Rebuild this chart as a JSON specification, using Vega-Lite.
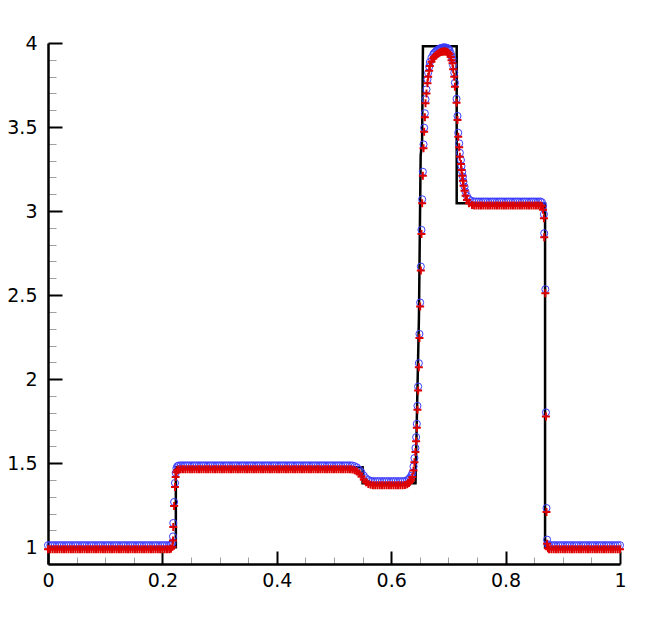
{
  "$schema": "https://vega.github.io/schema/vega-lite/v6.json",
  "autosize": "none",
  "width": 572,
  "height": 521,
  "padding": {"left": 48, "top": 43, "right": 28, "bottom": 76},
  "background": "white",
  "config": {
    "view": {"stroke": null},
    "axis": {
      "grid": false,
      "domainColor": "black",
      "domainWidth": 2.5,
      "labelFont": "DejaVu Sans",
      "labelFontSize": 19,
      "labelColor": "black",
      "labelOverlap": false,
      "labelFlush": false,
      "title": null
    }
  },
  "datasets": {
    "exact": [
      {"x": 0, "y": 1}, {"x": 0.2235, "y": 1}, {"x": 0.2235, "y": 1.475}, {"x": 0.55, "y": 1.475},
      {"x": 0.55, "y": 1.381}, {"x": 0.6425, "y": 1.381}, {"x": 0.6485, "y": 2.37}, {"x": 0.6515, "y": 3.33},
      {"x": 0.654, "y": 3.42}, {"x": 0.6555, "y": 3.98}, {"x": 0.7145, "y": 3.98}, {"x": 0.7145, "y": 3.047},
      {"x": 0.869, "y": 3.047}, {"x": 0.869, "y": 1}, {"x": 1, "y": 1}
    ],
    "num": [
      {"x":0,"y":1},{"x":0.004,"y":1},{"x":0.008,"y":1},{"x":0.012,"y":1},{"x":0.016,"y":1},{"x":0.02,"y":1},{"x":0.024,"y":1},{"x":0.028,"y":1},{"x":0.032,"y":1},{"x":0.036,"y":1},{"x":0.04,"y":1},{"x":0.044,"y":1},{"x":0.048,"y":1},{"x":0.052,"y":1},{"x":0.056,"y":1},{"x":0.06,"y":1},{"x":0.064,"y":1},{"x":0.068,"y":1},{"x":0.072,"y":1},{"x":0.076,"y":1},{"x":0.08,"y":1},{"x":0.084,"y":1},{"x":0.088,"y":1},{"x":0.092,"y":1},{"x":0.096,"y":1},{"x":0.1,"y":1},{"x":0.104,"y":1},{"x":0.108,"y":1},{"x":0.112,"y":1},{"x":0.116,"y":1},{"x":0.12,"y":1},{"x":0.124,"y":1},{"x":0.128,"y":1},{"x":0.132,"y":1},{"x":0.136,"y":1},{"x":0.14,"y":1},{"x":0.144,"y":1},{"x":0.148,"y":1},{"x":0.152,"y":1},{"x":0.156,"y":1},{"x":0.16,"y":1},{"x":0.164,"y":1},{"x":0.168,"y":1},{"x":0.172,"y":1},{"x":0.176,"y":1},{"x":0.18,"y":1},{"x":0.184,"y":1},{"x":0.188,"y":1},{"x":0.192,"y":1},{"x":0.196,"y":1},{"x":0.2,"y":1},{"x":0.204,"y":1},{"x":0.208,"y":1},{"x":0.212,"y":1},
      {"x":0.215,"y":1.002},{"x":0.2175,"y":1.015},{"x":0.2185,"y":1.052},{"x":0.219,"y":1.132},{"x":0.2205,"y":1.257},{"x":0.222,"y":1.37},{"x":0.2232,"y":1.43},{"x":0.2245,"y":1.458},{"x":0.226,"y":1.469},{"x":0.228,"y":1.474},
      {"x":0.232,"y":1.475},{"x":0.236,"y":1.475},{"x":0.24,"y":1.475},{"x":0.244,"y":1.475},{"x":0.248,"y":1.475},{"x":0.252,"y":1.475},{"x":0.256,"y":1.475},{"x":0.26,"y":1.475},{"x":0.264,"y":1.475},{"x":0.268,"y":1.475},{"x":0.272,"y":1.475},{"x":0.276,"y":1.475},{"x":0.28,"y":1.475},{"x":0.284,"y":1.475},{"x":0.288,"y":1.475},{"x":0.292,"y":1.475},{"x":0.296,"y":1.475},{"x":0.3,"y":1.475},{"x":0.304,"y":1.475},{"x":0.308,"y":1.475},{"x":0.312,"y":1.475},{"x":0.316,"y":1.475},{"x":0.32,"y":1.475},{"x":0.324,"y":1.475},{"x":0.328,"y":1.475},{"x":0.332,"y":1.475},{"x":0.336,"y":1.475},{"x":0.34,"y":1.475},{"x":0.344,"y":1.475},{"x":0.348,"y":1.475},{"x":0.352,"y":1.475},{"x":0.356,"y":1.475},{"x":0.36,"y":1.475},{"x":0.364,"y":1.475},{"x":0.368,"y":1.475},{"x":0.372,"y":1.475},{"x":0.376,"y":1.475},{"x":0.38,"y":1.475},{"x":0.384,"y":1.475},{"x":0.388,"y":1.475},{"x":0.392,"y":1.475},{"x":0.396,"y":1.475},{"x":0.4,"y":1.475},{"x":0.404,"y":1.475},{"x":0.408,"y":1.475},{"x":0.412,"y":1.475},{"x":0.416,"y":1.475},{"x":0.42,"y":1.475},{"x":0.424,"y":1.475},{"x":0.428,"y":1.475},{"x":0.432,"y":1.475},{"x":0.436,"y":1.475},{"x":0.44,"y":1.475},{"x":0.444,"y":1.475},{"x":0.448,"y":1.475},{"x":0.452,"y":1.475},{"x":0.456,"y":1.475},{"x":0.46,"y":1.475},{"x":0.464,"y":1.475},{"x":0.468,"y":1.475},{"x":0.472,"y":1.475},{"x":0.476,"y":1.475},{"x":0.48,"y":1.475},{"x":0.484,"y":1.475},{"x":0.488,"y":1.475},{"x":0.492,"y":1.475},{"x":0.496,"y":1.475},{"x":0.5,"y":1.475},{"x":0.504,"y":1.475},{"x":0.508,"y":1.475},{"x":0.512,"y":1.475},{"x":0.516,"y":1.475},{"x":0.52,"y":1.475},{"x":0.524,"y":1.475},{"x":0.528,"y":1.475},
      {"x":0.532,"y":1.474},{"x":0.536,"y":1.47},{"x":0.54,"y":1.463},{"x":0.544,"y":1.45},{"x":0.548,"y":1.433},{"x":0.552,"y":1.414},{"x":0.556,"y":1.398},{"x":0.56,"y":1.388},{"x":0.564,"y":1.383},
      {"x":0.568,"y":1.381},{"x":0.572,"y":1.381},{"x":0.576,"y":1.381},{"x":0.58,"y":1.381},{"x":0.584,"y":1.381},{"x":0.588,"y":1.381},{"x":0.592,"y":1.381},{"x":0.596,"y":1.381},{"x":0.6,"y":1.381},{"x":0.604,"y":1.381},{"x":0.608,"y":1.381},{"x":0.612,"y":1.381},{"x":0.616,"y":1.381},{"x":0.62,"y":1.381},
      {"x":0.624,"y":1.382},{"x":0.628,"y":1.387},{"x":0.631,"y":1.394},{"x":0.633,"y":1.402},{"x":0.635,"y":1.413},{"x":0.637,"y":1.429},{"x":0.639,"y":1.468},{"x":0.6406,"y":1.518},{"x":0.6424,"y":1.578},{"x":0.6436,"y":1.643},{"x":0.6448,"y":1.722},{"x":0.6459,"y":1.829},{"x":0.6471,"y":1.944},{"x":0.6483,"y":2.083},{"x":0.6494,"y":2.257},{"x":0.6506,"y":2.444},{"x":0.6518,"y":2.658},{"x":0.6529,"y":2.876},{"x":0.6541,"y":3.058},{"x":0.6553,"y":3.222},{"x":0.6565,"y":3.385},{"x":0.6576,"y":3.484},{"x":0.6588,"y":3.57},{"x":0.66,"y":3.653},{"x":0.6617,"y":3.712},{"x":0.6634,"y":3.772},{"x":0.6646,"y":3.811},{"x":0.6664,"y":3.847},{"x":0.6676,"y":3.875},{"x":0.6704,"y":3.9},{"x":0.6734,"y":3.92},{"x":0.675,"y":3.928},{"x":0.677,"y":3.935},{"x":0.679,"y":3.941},{"x":0.681,"y":3.947},{"x":0.683,"y":3.951},{"x":0.685,"y":3.955},{"x":0.687,"y":3.958},{"x":0.689,"y":3.96},{"x":0.691,"y":3.962},{"x":0.693,"y":3.962},{"x":0.695,"y":3.961},{"x":0.697,"y":3.96},{"x":0.699,"y":3.956},{"x":0.7,"y":3.953},{"x":0.702,"y":3.945},{"x":0.704,"y":3.928},{"x":0.7054,"y":3.91},{"x":0.7072,"y":3.891},{"x":0.7084,"y":3.855},{"x":0.7102,"y":3.811},{"x":0.7114,"y":3.752},{"x":0.7142,"y":3.656},{"x":0.7159,"y":3.554},{"x":0.7172,"y":3.454},{"x":0.7189,"y":3.391},{"x":0.72,"y":3.335},{"x":0.7219,"y":3.292},{"x":0.7229,"y":3.256},{"x":0.7242,"y":3.222},{"x":0.7254,"y":3.193},{"x":0.7264,"y":3.163},{"x":0.7282,"y":3.133},{"x":0.73,"y":3.103},{"x":0.7324,"y":3.078},{"x":0.7359,"y":3.058},{"x":0.7412,"y":3.048},
      {"x":0.745,"y":3.045},{"x":0.749,"y":3.045},{"x":0.753,"y":3.045},{"x":0.757,"y":3.045},{"x":0.761,"y":3.045},{"x":0.765,"y":3.045},{"x":0.769,"y":3.045},{"x":0.773,"y":3.045},{"x":0.777,"y":3.045},{"x":0.781,"y":3.045},{"x":0.785,"y":3.045},{"x":0.789,"y":3.045},{"x":0.793,"y":3.045},{"x":0.797,"y":3.045},{"x":0.801,"y":3.045},{"x":0.805,"y":3.045},{"x":0.809,"y":3.045},{"x":0.813,"y":3.045},{"x":0.817,"y":3.045},{"x":0.821,"y":3.045},{"x":0.825,"y":3.045},{"x":0.829,"y":3.045},{"x":0.833,"y":3.045},{"x":0.837,"y":3.045},{"x":0.841,"y":3.045},{"x":0.845,"y":3.045},{"x":0.849,"y":3.045},{"x":0.853,"y":3.045},{"x":0.857,"y":3.045},{"x":0.861,"y":3.045},
      {"x":0.8635,"y":3.04},{"x":0.8655,"y":3.02},{"x":0.867,"y":2.969},{"x":0.8675,"y":2.856},{"x":0.8695,"y":2.523},{"x":0.8705,"y":1.79},{"x":0.8715,"y":1.221},{"x":0.8725,"y":1.033},{"x":0.874,"y":1.005},
      {"x":0.876,"y":1},{"x":0.88,"y":1},{"x":0.884,"y":1},{"x":0.888,"y":1},{"x":0.892,"y":1},{"x":0.896,"y":1},{"x":0.9,"y":1},{"x":0.904,"y":1},{"x":0.908,"y":1},{"x":0.912,"y":1},{"x":0.916,"y":1},{"x":0.92,"y":1},{"x":0.924,"y":1},{"x":0.928,"y":1},{"x":0.932,"y":1},{"x":0.936,"y":1},{"x":0.94,"y":1},{"x":0.944,"y":1},{"x":0.948,"y":1},{"x":0.952,"y":1},{"x":0.956,"y":1},{"x":0.96,"y":1},{"x":0.964,"y":1},{"x":0.968,"y":1},{"x":0.972,"y":1},{"x":0.976,"y":1},{"x":0.98,"y":1},{"x":0.984,"y":1},{"x":0.988,"y":1},{"x":0.992,"y":1},{"x":0.996,"y":1},{"x":1,"y":1}
    ]
  },
  "encoding": {
    "x": {
      "field": "x", "type": "quantitative",
      "scale": {"domain": [0, 1], "nice": false, "zero": false},
      "axis": {
        "values": [0,0.05,0.1,0.15,0.2,0.25,0.3,0.35,0.4,0.45,0.5,0.55,0.6,0.65,0.7,0.75,0.8,0.85,0.9,0.95,1],
        "labelExpr": "abs(datum.value*5-round(datum.value*5))<0.001 ? format(datum.value,'~g') : ''",
        "tickSize": {"condition": {"test": "abs(datum.value*5-round(datum.value*5))<0.001", "value": -13}, "value": -7},
        "tickColor": {"condition": {"test": "abs(datum.value*5-round(datum.value*5))<0.001", "value": "black"}, "value": "#a0a0a0"},
        "tickWidth": {"condition": {"test": "abs(datum.value*5-round(datum.value*5))<0.001", "value": 2}, "value": 1},
        "labelPadding": 20
      }
    },
    "y": {
      "field": "y", "type": "quantitative",
      "scale": {"domain": [0.9, 4], "nice": false, "zero": false},
      "axis": {
        "values": [1,1.1,1.2,1.3,1.4,1.5,1.6,1.7,1.8,1.9,2,2.1,2.2,2.3,2.4,2.5,2.6,2.7,2.8,2.9,3,3.1,3.2,3.3,3.4,3.5,3.6,3.7,3.8,3.9,4],
        "labelExpr": "abs(datum.value*2-round(datum.value*2))<0.001 ? format(datum.value,'~g') : ''",
        "tickSize": {"condition": {"test": "abs(datum.value*2-round(datum.value*2))<0.001", "value": -14}, "value": -8},
        "tickColor": {"condition": {"test": "abs(datum.value*2-round(datum.value*2))<0.001", "value": "black"}, "value": "#a0a0a0"},
        "tickWidth": {"condition": {"test": "abs(datum.value*2-round(datum.value*2))<0.001", "value": 2}, "value": 1},
        "labelPadding": 25
      }
    }
  },
  "layer": [
    {
      "data": {"name": "exact"},
      "mark": {"type": "line", "color": "black", "strokeWidth": 2.5},
      "encoding": {"order": {"value": null}}
    },
    {
      "data": {"name": "num"},
      "mark": {"type": "point", "shape": "circle", "filled": false, "stroke": "#3c3cff", "strokeWidth": 1, "size": 50, "opacity": 1, "yOffset": -2}
    },
    {
      "data": {"name": "num"},
      "mark": {"type": "point", "shape": "M-1,0L1,0M0,-1L0,1", "filled": false, "stroke": "#dd0000", "strokeWidth": 2, "size": 64, "opacity": 1, "yOffset": 2}
    }
  ]
}
